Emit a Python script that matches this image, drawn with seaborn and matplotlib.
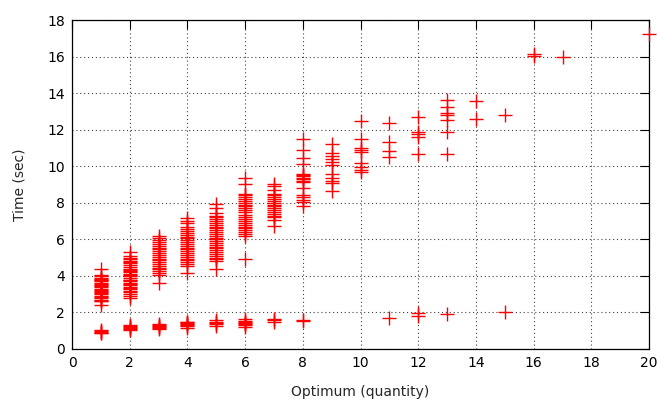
import matplotlib
matplotlib.use("Agg")
import matplotlib.pyplot as plt
import seaborn as sns
import pandas as pd

# Time values (sec) per optimum quantity
t1 = [0.85, 0.9, 0.95, 1.0, 1.05,
      2.4, 2.6, 2.65, 2.7, 2.8, 2.85, 2.9, 3.0, 3.05, 3.1, 3.2, 3.25, 3.3, 3.4, 3.45,
      3.5, 3.55, 3.6, 3.7, 3.75, 3.8, 3.85, 3.9, 4.0, 4.05, 4.35]
t2 = [1.05, 1.1, 1.15, 1.2, 1.25, 1.3,
      2.8, 2.9, 3.0, 3.1, 3.2, 3.3, 3.35, 3.4, 3.5, 3.55, 3.6, 3.7, 3.75, 3.8, 3.9,
      4.0, 4.05, 4.1, 4.2, 4.25, 4.3, 4.4, 4.5, 4.6, 4.7, 4.75, 4.8, 4.9, 5.0, 5.1, 5.3]
t3 = [1.1, 1.15, 1.2, 1.25, 1.3, 1.35,
      3.6, 4.05, 4.15, 4.25, 4.35, 4.45, 4.55, 4.65, 4.75, 4.85, 4.95, 5.05, 5.15,
      5.25, 5.35, 5.45, 5.55, 5.65, 5.75, 5.85, 5.95, 6.05, 6.2]
t4 = [1.15, 1.25, 1.3, 1.35, 1.4, 1.45, 1.5,
      4.15, 4.55, 4.65, 4.75, 4.85, 4.95, 5.05, 5.15, 5.25, 5.35, 5.45, 5.55, 5.65,
      5.75, 5.85, 5.95, 6.05, 6.15, 6.25, 6.35, 6.45, 6.55, 6.65, 6.9, 7.0, 7.15]
t5 = [1.25, 1.35, 1.4, 1.5, 1.6,
      4.35, 4.8, 4.9, 5.0, 5.1, 5.2, 5.3, 5.4, 5.5, 5.6, 5.7, 5.8, 5.9, 6.0, 6.1,
      6.2, 6.3, 6.4, 6.5, 6.6, 6.7, 6.8, 6.9, 7.0, 7.1, 7.2, 7.3, 7.45, 7.7, 7.95]
t6 = [1.2, 1.3, 1.35, 1.4, 1.45, 1.55, 1.65,
      4.9, 6.2, 6.3, 6.4, 6.5, 6.6, 6.7, 6.8, 6.9, 7.0, 7.1, 7.2, 7.35, 7.5, 7.6,
      7.7, 7.8, 7.9, 8.0, 8.1, 8.2, 8.3, 8.4, 8.5, 9.05, 9.35]
t7 = [1.5, 1.6, 1.65,
      6.75, 7.05, 7.2, 7.3, 7.4, 7.5, 7.6, 7.7, 7.8, 7.9, 8.0, 8.1, 8.2, 8.3, 8.4,
      8.5, 8.7, 8.9, 9.05]
t8 = [1.55, 1.6,
      7.8, 8.05, 8.15, 8.3, 8.4, 8.8, 9.15, 9.2, 9.3, 9.35, 9.45, 9.5, 9.6, 10.1,
      10.45, 10.9, 11.5]
t9 = [8.65, 9.1, 9.2, 9.35, 9.6, 10.05, 10.25, 10.4, 10.55, 10.7, 11.2]
t10 = [9.7, 9.8, 9.95, 10.2, 10.8, 10.9, 11.0, 11.5, 12.5]
t11 = [1.7, 10.5, 10.85, 11.35, 12.35]
t12 = [1.8, 1.95, 10.65, 11.6, 11.75, 11.85, 12.7]
t13 = [1.9, 10.65, 11.85, 12.55, 12.8, 12.9, 13.25, 13.6]
t14 = [12.6, 13.55]
t15 = [2.05, 12.8]
t16 = [16.05, 16.15]
t17 = [15.95]
t20 = [17.25]

groups = {1: t1, 2: t2, 3: t3, 4: t4, 5: t5, 6: t6, 7: t7, 8: t8, 9: t9, 10: t10,
          11: t11, 12: t12, 13: t13, 14: t14, 15: t15, 16: t16, 17: t17, 20: t20}

rows = [(q, t) for q, ts in groups.items() for t in ts]
df = pd.DataFrame(rows, columns=["optimum", "time"])

sns.set_style("white")
plt.rcParams["font.family"] = ["DejaVu Sans"]
plt.rcParams["font.size"] = 10

fig = plt.figure(figsize=(6.57, 4.01), dpi=100)
ax = fig.add_axes([0.1096, 0.1297, 0.8784, 0.8204])

sns.scatterplot(data=df, x="optimum", y="time", marker="+", color="#ff0000",
                s=110, linewidth=1.0, ax=ax, clip_on=False, zorder=3)

ax.set_xlim(0, 20)
ax.set_ylim(0, 18)
ax.set_xticks(range(0, 21, 2))
ax.set_yticks(range(0, 19, 2))
ax.grid(True, color="black", linestyle=(0, (1, 2.5)), linewidth=0.8, alpha=0.75)
ax.tick_params(direction="in", length=6.5, width=0.8, top=True, right=True,
               labelsize=10, colors="black", pad=5)
for s in ax.spines.values():
    s.set_visible(True)
    s.set_color("black")
    s.set_linewidth(0.9)
ax.set_xlabel("Optimum (quantity)", fontsize=10, labelpad=11)
ax.set_ylabel("Time (sec)", fontsize=10, labelpad=15)

fig.savefig("out.png", dpi=100)
